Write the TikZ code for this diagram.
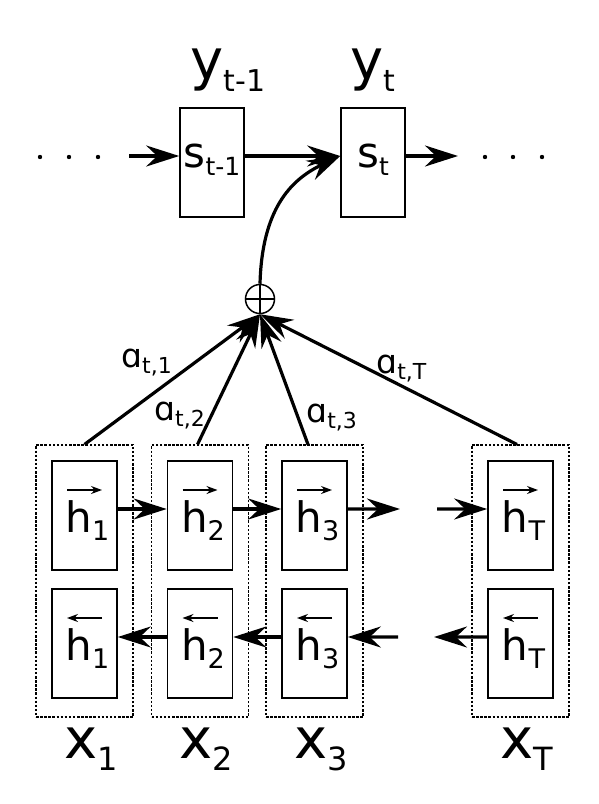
\documentclass[tikz,border=0pt]{standalone}
\usepackage{fontspec}
\setmainfont{DejaVu Sans}
\usetikzlibrary{calc}
\usetikzlibrary{arrows.meta}
\tikzstyle{every path}=[line width=1.6pt,line join=miter]
\tikzstyle{biglabel}=[font=\fontsize{56}{56}\selectfont,inner sep=0pt,anchor=base west]
\tikzstyle{alab}=[font=\fontsize{33}{33}\selectfont,inner sep=0pt,anchor=base west]
\tikzstyle{state}=[draw,line width=1.6pt,minimum width=64pt,minimum height=109pt,inner sep=0pt,font=\fontsize{42}{42}\selectfont,text height=18pt,text depth=9pt]
\tikzstyle{cell}=[draw,line width=1.6pt,minimum width=65pt,minimum height=109pt,inner sep=0pt,font=\fontsize{42}{42}\selectfont,text height=40pt,text depth=7pt]
\tikzstyle{group}=[draw,line width=1.1pt,dash pattern=on 2.5pt off 1.6pt,minimum width=97pt,minimum height=272pt,inner sep=0pt]
\newcommand{\lowidx}[3]{\raisebox{-#1pt}{\fontsize{#2}{#2}\selectfont #3}}

\begin{document}
\begin{tikzpicture}[x=10pt,y=-10pt]
	\tikzstyle{flow} = [line width=3.2pt,-{Stealth[length=33pt, width=21pt, inset=11pt]}]
	\tikzstyle{tiny arrow} = [line width=1.2pt,-{Stealth[length=11pt, width=8pt]}]
	\useasboundingbox (0,0) rectangle (59.8,80.4);
	
	% decoder
	\node[state] (st1) at (21.2,16.25) {s\lowidx{8}{25}{t-1}};
	\node[state] (st) at (37.3,16.25) {s\lowidx{8}{25}{t}};
	\node[biglabel] (y1) at (19.0,7.9) {y\lowidx{12}{30}{t-1}};
	\node[biglabel] (y2) at (35.0,7.9) {y\lowidx{12}{30}{t}};
	
	\foreach \i/\px in {1/4.0,2/6.9,3/9.8,4/48.5,5/51.3,6/54.2}{
		\coordinate (dot\i) at (\px,15.7);
		\fill (dot\i) circle[radius=2.2pt];
	}
	\coordinate (lin) at (12.9,15.6);
	\coordinate (rout) at (45.8,15.6);
	\draw[flow] (lin) -- ($(st1.west)+(0,-0.65)$);
	\draw[flow] ($(st1.east)+(0,-0.65)$) -- ($(st.west)+(0,-0.65)$);
	\draw[flow] ($(st.east)+(0,-0.65)$) -- (rout);
	
	% weighted sum
	\node[draw,circle,minimum size=29pt,inner sep=0pt,line width=1.5pt] (sum) at (26.0,29.9) {};
	\draw[line width=2.8pt] (sum.north) -- (sum.south) (sum.west) -- (sum.east);
	\draw[flow] (sum.north) .. controls (26.2,21) and (29,18) .. ($(st.west)+(0,-0.65)$);
	
	% encoder
	\foreach \i/\cx/\dx/\lab in {1/8.45/0/1,2/20/-0.25/2,3/31.45/-0.65/3,4/52.05/-0.35/T}{
		\node[group] (grp\i) at (\cx,58.1) {};
		\node[cell] (hf\i) at (\cx,51.55) {\hspace{6pt}h\lowidx{8}{27}{\lab}};
		\node[cell] (hb\i) at (\cx,64.35) {\hspace{6pt}h\lowidx{8}{27}{\lab}};
		\draw[tiny arrow] ($(hf\i.center)+(-1.75,-2.55)$) -- +(3.5,0);
		\draw[tiny arrow] ($(hb\i.center)+(1.75,-2.55)$) -- +(-3.5,0);
		\node[biglabel] (xl\i) at ($(grp\i.south)+(-2.1,4.1)$) {x\lowidx{12}{32}{\lab}};
		\draw[flow] ($(grp\i.north)+(\dx,0)$) -- (sum.south);
	}
	
	\draw[flow] ($(hf1.east)+(0,-0.65)$) -- ($(hf2.west)+(0,-0.65)$);
	\draw[flow] ($(hf2.east)+(0,-0.65)$) -- ($(hf3.west)+(0,-0.65)$);
	\coordinate (fgap1) at (40.0,50.9);
	\coordinate (fgap2) at (43.7,50.9);
	\draw[flow] ($(hf3.east)+(0,-0.65)$) -- (fgap1);
	\draw[flow] (fgap2) -- ($(hf4.west)+(0,-0.65)$);
	
	\draw[flow] ($(hb2.west)+(0,-0.65)$) -- ($(hb1.east)+(0,-0.65)$);
	\draw[flow] ($(hb3.west)+(0,-0.65)$) -- ($(hb2.east)+(0,-0.65)$);
	\coordinate (bgap1) at (39.8,63.7);
	\coordinate (bgap2) at (43.4,63.7);
	\draw[flow] (bgap1) -- ($(hb3.east)+(0,-0.65)$);
	\draw[flow] ($(hb4.west)+(0,-0.65)$) -- (bgap2);
	
	% attention weights
	\node[alab] (a1) at (12.05,36.7) {ɑ\lowidx{6}{22}{t,1}};
	\node[alab] (a2) at (15.35,42.0) {ɑ\lowidx{6}{22}{t,2}};
	\node[alab] (a3) at (30.55,42.2) {ɑ\lowidx{6}{22}{t,3}};
	\node[alab] (aT) at (37.55,37.3) {ɑ\lowidx{6}{22}{t,T}};
	
\end{tikzpicture}
\end{document}
